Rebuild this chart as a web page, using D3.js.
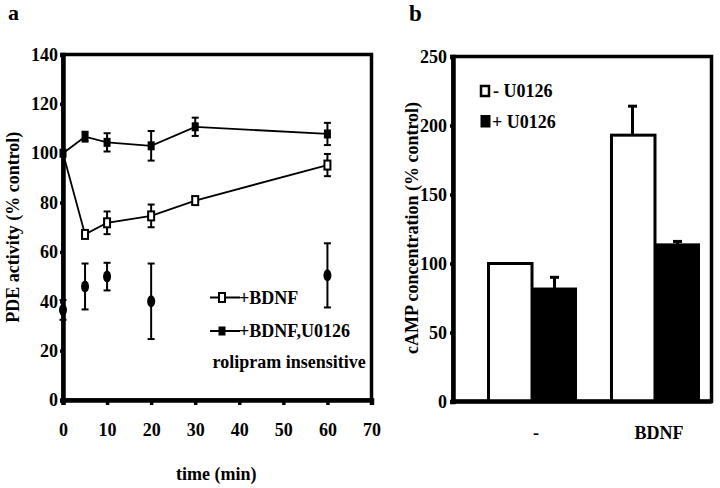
<!DOCTYPE html>
<html>
<head>
<meta charset="utf-8">
<script src="https://cdn.jsdelivr.net/npm/d3@7"></script>
<style>
  html, body { margin: 0; padding: 0; background: #fff; }
  svg { display: block; }
  text { font-family: "Liberation Serif", "Times New Roman", serif; font-weight: bold; fill: #000; }
</style>
</head>
<body>
<svg id="chart" width="720" height="488"></svg>
<script>
// ---------- Panel a data ----------
const timeTicks = [0, 10, 20, 30, 40, 50, 60, 70];
const pdeTicks = [0, 20, 40, 60, 80, 100, 120, 140];
const timePoints = [0, 5, 10, 20, 30, 60];
const bdnf = [100, 67.1, 71.8, 74.6, 80.8, 95.2];
const bdnfErr = [0, 1.5, 4.6, 4.6, 1.5, 4.5];
const bdnfU0126 = [100, 106.7, 104.4, 103.0, 110.7, 107.8];
const bdnfU0126Err = [0, 2, 3.7, 6, 3.7, 4.5];
const roliTime = [0, 5, 10, 20, 60];
const roli = [36.5, 46, 50, 40, 50.5];
const roliErr = [4, 9.3, 5.6, 15.3, 13];
const legendA = ["+BDNF", "+BDNF,U0126", "rolipram insensitive"];

// ---------- Panel b data ----------
const groups = ["-", "BDNF"];
const seriesB = ["- U0126", "+ U0126"];
const noU0126 = [100, 193];
const noU0126Err = [0, 21];
const withU0126 = [81.5, 113.5];
const withU0126Err = [8.5, 2.5];
const campTicks = [0, 50, 100, 150, 200, 250];

const svg = d3.select("#chart");
const FS = 18;

// ================= Panel a =================
const xA = d3.scaleLinear().domain([0, 70]).range([63, 371.5]);
const yA = d3.scaleLinear().domain([0, 140]).range([400, 54.5]);

const gA = svg.append("g");

gA.append("rect")
  .attr("x", xA(0)).attr("y", yA(140))
  .attr("width", xA(70) - xA(0)).attr("height", yA(0) - yA(140))
  .attr("fill", "none").attr("stroke", "#000").attr("stroke-width", 3.5);

const axA_y = gA.append("g").attr("transform", `translate(${xA(0)},0)`)
  .call(d3.axisLeft(yA).tickValues(pdeTicks).tickSize(3).tickPadding(2).tickFormat(d3.format("d")));
const axA_x = gA.append("g").attr("transform", `translate(0,${yA(0)})`)
  .call(d3.axisBottom(xA).tickValues(timeTicks).tickSize(5).tickPadding(18).tickFormat(d3.format("d")));
[axA_y, axA_x].forEach(ax => {
  ax.select(".domain").attr("stroke-width", 4.5);
  ax.selectAll(".tick line").attr("stroke-width", 3.5);
  ax.selectAll("text").style("font-size", FS + "px").style("font-family", "Liberation Serif").style("font-weight", "bold");
});

gA.append("text")
  .attr("transform", `translate(18.5,${(yA(0)+yA(140))/2 + 0}) rotate(-90)`)
  .attr("text-anchor", "middle").style("font-size", FS + "px")
  .text("PDE activity (% control)");
gA.append("text").attr("x", xA(35) - 1).attr("y", 480)
  .attr("text-anchor", "middle").style("font-size", FS + "px").text("time (min)");
gA.append("text").attr("x", 8).attr("y", 20).style("font-size", "22px").text("a");

const lineGen = d3.line().x(d => xA(d[0])).y(d => yA(d[1]));

function errBars(g, xs, ys, es, capW, sw) {
  xs.forEach((t, i) => {
    if (!es[i]) return;
    const x = xA(t), y1 = yA(ys[i] - es[i]), y2 = yA(ys[i] + es[i]);
    g.append("line").attr("x1", x).attr("x2", x).attr("y1", y1).attr("y2", y2)
      .attr("stroke", "#000").attr("stroke-width", sw);
    [y1, y2].forEach(y => g.append("line").attr("x1", x - capW/2).attr("x2", x + capW/2)
      .attr("y1", y).attr("y2", y).attr("stroke", "#000").attr("stroke-width", sw));
  });
}

// lines
gA.append("path").datum(timePoints.map((t, i) => [t, bdnf[i]]))
  .attr("d", lineGen).attr("fill", "none").attr("stroke", "#000").attr("stroke-width", 1.8);
gA.append("path").datum(timePoints.map((t, i) => [t, bdnfU0126[i]]))
  .attr("d", lineGen).attr("fill", "none").attr("stroke", "#000").attr("stroke-width", 1.8);

errBars(gA, timePoints, bdnf, bdnfErr, 7, 2);
errBars(gA, timePoints, bdnfU0126, bdnfU0126Err, 7, 2);
errBars(gA, roliTime, roli, roliErr, 7, 2);

// markers
gA.selectAll(".mOpen").data(timePoints.map((t, i) => [t, bdnf[i]]).slice(1)).enter()
  .append("rect").attr("x", d => xA(d[0]) - 3).attr("y", d => yA(d[1]) - 4.5)
  .attr("width", 6).attr("height", 9).attr("fill", "#fff").attr("stroke", "#000").attr("stroke-width", 2);
gA.selectAll(".mFill").data(timePoints.map((t, i) => [t, bdnfU0126[i]])).enter()
  .append("rect").attr("x", d => xA(d[0]) - 3.5).attr("y", d => yA(d[1]) - 4.5)
  .attr("width", 7).attr("height", 9).attr("fill", "#000");
gA.selectAll(".mRoli").data(roliTime.map((t, i) => [t, roli[i]])).enter()
  .append("ellipse").attr("cx", d => xA(d[0])).attr("cy", d => yA(d[1]))
  .attr("rx", 4).attr("ry", 6).attr("fill", "#000");

// legend a
const legRows = [297.5, 331];
legRows.forEach((y, i) => {
  gA.append("line").attr("x1", 210).attr("x2", 240).attr("y1", y).attr("y2", y)
    .attr("stroke", "#000").attr("stroke-width", 2);
  if (i === 0) {
    gA.append("rect").attr("x", 219).attr("y", y - 4.5).attr("width", 6).attr("height", 9)
      .attr("fill", "#fff").attr("stroke", "#000").attr("stroke-width", 2);
  } else {
    gA.append("rect").attr("x", 218.5).attr("y", y - 4.5).attr("width", 7).attr("height", 9).attr("fill", "#000");
  }
  gA.append("text").attr("x", 239).attr("y", y + 6).style("font-size", FS + "px").text(legendA[i]);
});
gA.append("text").attr("x", 212.5).attr("y", 368).style("font-size", FS + "px").text(legendA[2]);

// ================= Panel b =================
const yB = d3.scaleLinear().domain([0, 250]).range([401.5, 56.5]);
const xB = d3.scaleBand().domain(groups).range([487, 700]).paddingInner(0.268).paddingOuter(0);
const xSub = d3.scaleBand().domain(seriesB).range([0, xB.bandwidth()]);
const frameL = 453, frameR = 711.5;

const gB = svg.append("g");
gB.append("rect").attr("x", frameL).attr("y", yB(250))
  .attr("width", frameR - frameL).attr("height", yB(0) - yB(250))
  .attr("fill", "none").attr("stroke", "#000").attr("stroke-width", 3.5);

const axB_y = gB.append("g").attr("transform", `translate(${frameL},0)`)
  .call(d3.axisLeft(yB).tickValues(campTicks).tickSize(3).tickPadding(3).tickFormat(d3.format("d")));
axB_y.select(".domain").attr("stroke-width", 4.5);
axB_y.selectAll(".tick line").attr("stroke-width", 3.5);
axB_y.selectAll("text").style("font-size", FS + "px").style("font-family", "Liberation Serif").style("font-weight", "bold");

// bars
const barData = [];
groups.forEach((g, i) => {
  barData.push({ g, s: seriesB[0], v: noU0126[i], e: noU0126Err[i] });
  barData.push({ g, s: seriesB[1], v: withU0126[i], e: withU0126Err[i] });
});
barData.forEach(d => {
  const x = xB(d.g) + xSub(d.s), w = xSub.bandwidth();
  if (d.e) {
    const cx = x + w / 2;
    gB.append("line").attr("x1", cx).attr("x2", cx).attr("y1", yB(d.v)).attr("y2", yB(d.v + d.e))
      .attr("stroke", "#000").attr("stroke-width", 3);
    gB.append("line").attr("x1", cx - 4.5).attr("x2", cx + 4.5).attr("y1", yB(d.v + d.e)).attr("y2", yB(d.v + d.e))
      .attr("stroke", "#000").attr("stroke-width", 3);
  }
  if (d.s === seriesB[0]) {
    gB.append("rect").attr("x", x + 1.5).attr("y", yB(d.v)).attr("width", w - 1.5).attr("height", yB(0) - yB(d.v))
      .attr("fill", "#fff").attr("stroke", "#000").attr("stroke-width", 3);
  } else {
    gB.append("rect").attr("x", x).attr("y", yB(d.v) - 1.5).attr("width", w).attr("height", yB(0) - yB(d.v) + 1.5)
      .attr("fill", "#000");
  }
});

// bottom axis (drawn over bars)
const axB_x = gB.append("g").attr("transform", `translate(0,${yB(0)})`)
  .call(d3.axisBottom(xB).tickSize(0).tickPadding(25));
axB_x.select(".domain").remove();
gB.append("line").attr("x1", frameL).attr("x2", frameR).attr("y1", yB(0)).attr("y2", yB(0))
  .attr("stroke", "#000").attr("stroke-width", 4.5);
axB_x.selectAll("text").style("font-size", FS + "px").style("font-family", "Liberation Serif").style("font-weight", "bold")
  .attr("dx", 4);

gB.append("text")
  .attr("transform", `translate(418,${(yB(0)+yB(250))/2 - 1}) rotate(-90)`)
  .attr("text-anchor", "middle").style("font-size", FS + "px")
  .text("cAMP concentration (% control)");
gB.append("text").attr("x", 409).attr("y", 21).style("font-size", "23px").text("b");

// legend b
gB.append("rect").attr("x", 481).attr("y", 86).attr("width", 8).attr("height", 10)
  .attr("fill", "#fff").attr("stroke", "#000").attr("stroke-width", 2.5);
gB.append("rect").attr("x", 480.5).attr("y", 115).attr("width", 10).attr("height", 12.5).attr("fill", "#000");
gB.append("text").attr("x", 493).attr("y", 97).style("font-size", FS + "px").text(seriesB[0]);
gB.append("text").attr("x", 492).attr("y", 127.5).style("font-size", FS + "px").text(seriesB[1]);
</script>
</body>
</html>
